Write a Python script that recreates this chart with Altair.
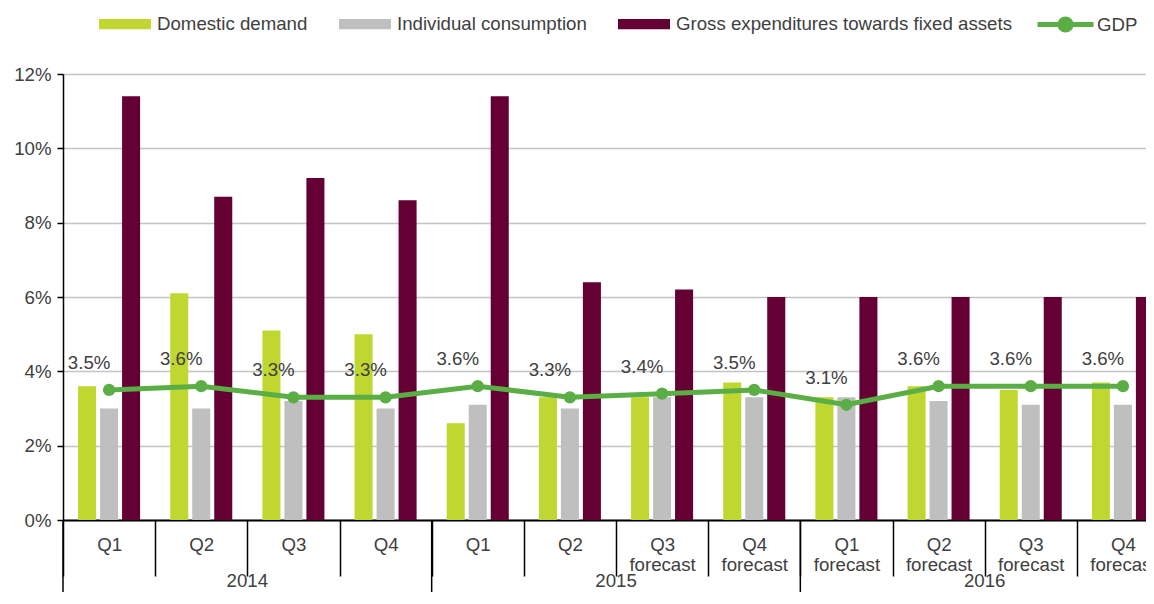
import altair as alt
import pandas as pd

# ---------------- data ----------------
years = ["2014"] * 4 + ["2015"] * 4 + ["2016"] * 4
quarters = ["Q1", "Q2", "Q3", "Q4", "Q1", "Q2", "Q3", "Q4", "Q1", "Q2", "Q3", "Q4"]
is_forecast = [False] * 6 + [True] * 6
domestic = [3.6, 6.1, 5.1, 5.0, 2.6, 3.3, 3.3, 3.7, 3.3, 3.6, 3.5, 3.7]
consumption = [3.0, 3.0, 3.2, 3.0, 3.1, 3.0, 3.3, 3.3, 3.3, 3.2, 3.1, 3.1]
gross = [11.4, 8.7, 9.2, 8.6, 11.4, 6.4, 6.2, 6.0, 6.0, 6.0, 6.0, 6.0]
gdp = [3.5, 3.6, 3.3, 3.3, 3.6, 3.3, 3.4, 3.5, 3.1, 3.6, 3.6, 3.6]
year_labels = ["2014", "2015", "2016"]
series_names = ["Domestic demand", "Individual consumption",
                "Gross expenditures towards fixed assets"]
series_colors = ["#bfd730", "#bfbfbf", "#640033"]
gdp_name = "GDP"
gdp_color = "#5aae45"
y_ticks = [0, 0.02, 0.04, 0.06, 0.08, 0.10, 0.12]

# ---------------- tables ----------------
keys = [f"{y}|{q}" + ("|forecast" if f else "")
        for y, q, f in zip(years, quarters, is_forecast)]

bar_rows = []
for name, vals in zip(series_names, [domestic, consumption, gross]):
    for k, v in zip(keys, vals):
        bar_rows.append({"key": k, "series": name, "value": v / 100})
bars_df = pd.DataFrame(bar_rows)

gdp_df = pd.DataFrame({
    "key": keys,
    "value": [v / 100 for v in gdp],
    "label": [f"{v:.1f}%" for v in gdp],
    "name": [gdp_name] * len(gdp),
})

first_idx = [years.index(y) for y in year_labels]
year_df = pd.DataFrame({
    "year": year_labels,
    "start_key": [keys[i] for i in first_idx],
    "mid_key": [keys[i + 2] for i in first_idx],
})

# ---------------- chart ----------------
FONT = "Liberation Sans"
TXT = "#404040"
FS = 18.67
W, H = 1083, 446
xscale = alt.Scale(domain=keys, range=[0, 1106], paddingInner=0, paddingOuter=0)
yscale = alt.Scale(domain=[0, 0.12])

x_axis = alt.Axis(
    title=None, labelExpr="slice(split(datum.value, '|'), 1)",
    tickBand="extent", tickSize=56, tickColor="black", tickWidth=1.5,
    domainColor="black", domainWidth=2, labelAngle=0, labelFontSize=FS,
    labelColor=TXT, labelPadding=-41, labelLineHeight=20,
    labelOverlap=False, labelBound=False, grid=False,
)
y_axis = alt.Axis(
    title=None, values=y_ticks, format=".0%", grid=True,
    gridColor="#c4c4c4", gridWidth=1.5, domainColor="black", domainWidth=1.5,
    tickColor="black", tickSize=6, tickWidth=1.5, labelFontSize=FS,
    labelColor=TXT, labelPadding=6,
)

rect_path = "M-1,-0.2H1V0.2H-1Z"
gdp_path = ("M-1,0H1M0.2,0A0.2,0.2,0,1,1,-0.2,0"
            "A0.2,0.2,0,1,1,0.2,0Z")

bars = alt.Chart(bars_df).mark_bar().encode(
    x=alt.X("key:N", scale=xscale, axis=x_axis, sort=keys),
    xOffset=alt.XOffset("series:N", sort=series_names,
                        scale=alt.Scale(domain=series_names,
                                        paddingInner=0.18, paddingOuter=0.685)),
    y=alt.Y("value:Q", scale=yscale, axis=y_axis),
    fill=alt.Fill("series:N",
                  scale=alt.Scale(domain=series_names, range=series_colors),
                  legend=alt.Legend(
                      title=None, orient="none", legendX=36, legendY=-76,
                      direction="horizontal", symbolType=rect_path,
                      symbolSize=2704, symbolStrokeWidth=0, labelFontSize=FS,
                      labelColor=TXT, labelFont=FONT, labelOffset=6,
                      labelLimit=0, columnPadding=31, symbolOpacity=1)),
)

line = alt.Chart(gdp_df).mark_line(strokeWidth=5).encode(
    x=alt.X("key:N", scale=xscale, sort=keys),
    y=alt.Y("value:Q", scale=yscale),
    stroke=alt.Stroke("name:N",
                      scale=alt.Scale(domain=[gdp_name], range=[gdp_color]),
                      legend=alt.Legend(
                          title=None, orient="none", legendX=972, legendY=-80,
                          symbolType=gdp_path, symbolSize=3136,
                          symbolStrokeWidth=5, symbolFillColor=gdp_color,
                          labelFontSize=FS, labelColor=TXT, labelFont=FONT,
                          labelOffset=1, labelLimit=0)),
)

points = alt.Chart(gdp_df).mark_circle(size=150, opacity=1, color=gdp_color).encode(
    x=alt.X("key:N", scale=xscale, sort=keys),
    y=alt.Y("value:Q", scale=yscale),
)

labels = alt.Chart(gdp_df).mark_text(
    dx=-20, dy=-27, fontSize=FS, font=FONT, color=TXT
).encode(
    x=alt.X("key:N", scale=xscale, sort=keys),
    y=alt.Y("value:Q", scale=yscale),
    text="label:N",
)

year_rules = alt.Chart(year_df).mark_rule(color="black", strokeWidth=1.5).encode(
    x=alt.X("start_key:N", scale=xscale, sort=keys, bandPosition=0),
    y=alt.value(H),
    y2=alt.value(H + 90),
)

year_text = alt.Chart(year_df).mark_text(
    fontSize=FS, font=FONT, color=TXT, baseline="top"
).encode(
    x=alt.X("mid_key:N", scale=xscale, sort=keys, bandPosition=0),
    y=alt.value(H + 52),
    text="year:N",
)

chart = alt.layer(bars, line, points, labels, year_rules, year_text).resolve_scale(
    x="shared"
).properties(
    width=W, height=H,
    autosize=alt.AutoSizeParams(type="none"),
    padding={"left": 55, "top": 66, "right": 0, "bottom": 72},
).configure_view(stroke=None).configure(
    font=FONT
).configure_axis(labelFont=FONT).configure_legend(labelFont=FONT)

chart.save("out.html", embed_options={"renderer": "svg", "actions": False})
